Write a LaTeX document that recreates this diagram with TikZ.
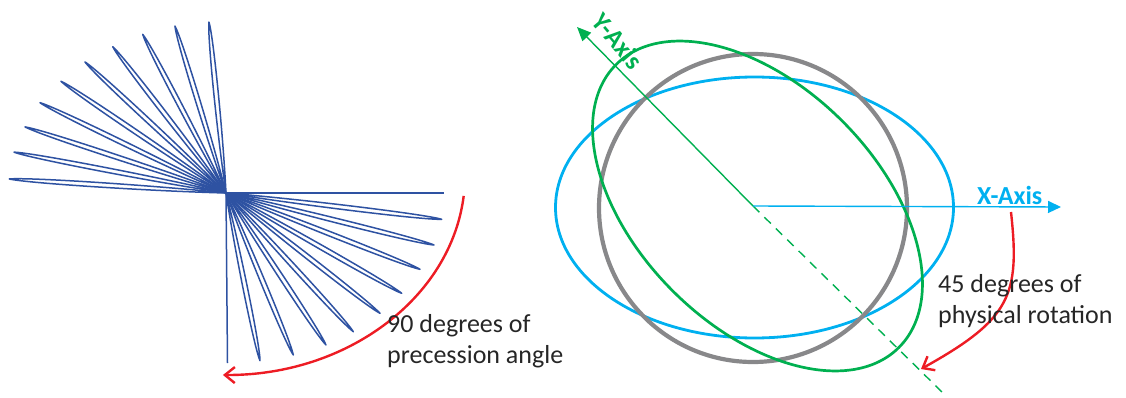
\documentclass[tikz,border=0pt]{standalone}
\usepackage{fontspec}
\setmainfont{Carlito}
\usetikzlibrary{arrows.meta}
\definecolor{fanblue}{RGB}{46,82,162}
\definecolor{skyblue}{RGB}{0,176,240}
\definecolor{offgreen}{RGB}{0,176,80}
\definecolor{ringgray}{RGB}{136,136,138}
\definecolor{arcred}{RGB}{237,28,36}
\definecolor{txt}{RGB}{38,38,38}
\tikzset{
  fan/.style={draw=fanblue, line width=1.5pt, line join=round},
  blueline/.style={draw=skyblue, line width=2.8pt},
  grayline/.style={draw=ringgray, line width=4.2pt},
  greenline/.style={draw=offgreen, line width=2.7pt},
  xaxis/.style={draw=skyblue, line width=1.4pt, -{Triangle[length=13pt,width=12pt]}},
  yaxis/.style={draw=offgreen, line width=1.4pt, -{Triangle[length=14pt,width=12pt]}},
  ydash/.style={draw=offgreen, line width=1.4pt, dash pattern=on 9pt off 7pt},
  redarrow/.style={draw=arcred, line width=2.4pt, -{Straight Barb[length=10pt,width=16pt]}},
  lbl/.style={font=\fontsize{26}{31}\selectfont, text=txt, inner sep=0pt, anchor=base west},
  axlbl/.style={font=\fontsize{26}{31}\selectfont\bfseries, inner sep=0pt}
}
\begin{document}
\begin{tikzpicture}[x=1pt,y=-1pt]
\useasboundingbox (0,0) rectangle (1126,398);
% ---------- left: precession fan ----------
\coordinate (fc) at (226,193);
\foreach \a/\L in {176.3/217.2,169.1/215.9,161.8/211.6,154.1/206.8,145.9/199.3,
                   137.1/192.5,127.75/185.0,117.7/179.2,107.0/174.6,95.7/171.8,
                   -6.95/217.3,-14.04/214.4,-21.47/208.5,-29.72/202.3,-38.0/195.4,
                   -47.45/188.3,-56.66/181.9,-67.44/175.4,-78.54/171.1}{
  \draw[fan, shift={(fc)}, rotate=\a]
    (0,0) .. controls (0.35*\L,3) and (0.92*\L,3) .. (\L,0)
          .. controls (0.92*\L,-3) and (0.35*\L,-3) .. (0,0);
}
\coordinate (fe) at (444,193);
\coordinate (fs) at (227.5,363);
\draw[fan] (fc) -- (fe);
\draw[fan] (fc) -- (fs);
% red arc, 90 degrees
\coordinate (ra) at (463.7,195.9);
\draw[redarrow] (ra) arc[start angle=6, end angle=90.5, x radius=240, y radius=200];
\node[lbl] (t90a) at (387,332) {90 degrees of};
\node[lbl] (t90b) at (387,363) {precession angle};
% ---------- right: ellipses ----------
\coordinate (O) at (753,206);
\draw[blueline] (754.5,207.5) ellipse [x radius=199, y radius=130.5];
\draw[grayline] (753,208) circle [radius=154];
\draw[greenline, shift={(757.5,206)}, rotate=-45] (0,0) ellipse [x radius=200, y radius=120];
\coordinate (ytip) at (577,27);
\coordinate (dend) at (944,394);
\coordinate (xtip) at (1061,207);
\draw[yaxis] (O) -- (ytip);
\draw[ydash] (O) -- (dend);
\draw[xaxis] (O) -- (xtip);
\node[axlbl, text=skyblue, anchor=base west] (xl) at (977,204.5) {X-Axis};
\node[axlbl, text=offgreen, rotate=-50] (yl) at (618,41) {Y-Axis};
% red arrow, 45 degrees
\coordinate (rs) at (1011,212);
\coordinate (re) at (921,369);
\draw[redarrow] (rs) .. controls (1020,295) and (1011,319) .. (re);
\node[lbl] (t45a) at (938,292) {45 degrees of};
\node[lbl] (t45b) at (938,323.5) {physical rotation};
\end{tikzpicture}
\end{document}
